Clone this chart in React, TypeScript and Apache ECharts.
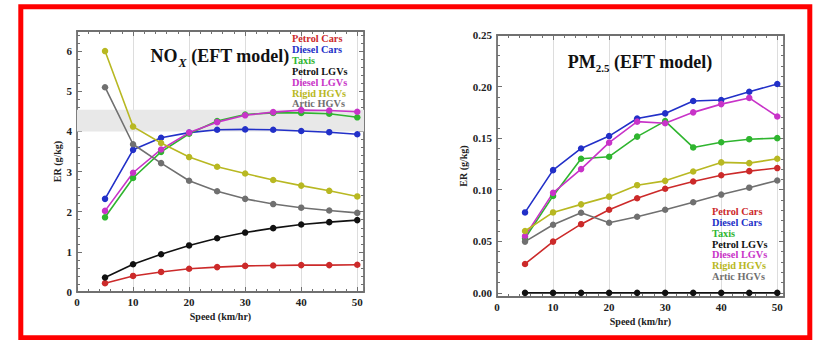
import React, { useEffect, useRef } from "react";
import * as echarts from "echarts";

const speeds = [5, 10, 15, 20, 25, 30, 35, 40, 45, 50];
const seriesNames = ["Petrol Cars", "Diesel Cars", "Taxis", "Petrol LGVs", "Diesel LGVs", "Rigid HGVs", "Artic HGVs"];
const seriesColors = ["#cc2a2a", "#2230c8", "#2fb52f", "#111111", "#c833c8", "#b8b822", "#707070"];

const noxPetrolCars = [0.22, 0.40, 0.50, 0.58, 0.62, 0.65, 0.66, 0.67, 0.67, 0.68];
const noxDieselCars = [2.32, 3.54, 3.84, 3.97, 4.04, 4.05, 4.04, 4.01, 3.98, 3.93];
const noxTaxis = [1.86, 2.84, 3.49, 3.94, 4.26, 4.42, 4.46, 4.46, 4.44, 4.35];
const noxPetrolLGVs = [0.36, 0.69, 0.94, 1.16, 1.34, 1.48, 1.59, 1.68, 1.74, 1.79];
const noxDieselLGVs = [2.02, 2.97, 3.55, 3.97, 4.23, 4.40, 4.48, 4.53, 4.52, 4.49];
const noxRigidHGVs = [6.0, 4.12, 3.71, 3.36, 3.12, 2.95, 2.79, 2.65, 2.52, 2.38];
const noxArticHGVs = [5.10, 3.68, 3.21, 2.77, 2.51, 2.32, 2.19, 2.10, 2.03, 1.97];
const noxBand = [4.0, 4.54];

const pmPetrolCars = [0.028, 0.0497, 0.0666, 0.0806, 0.0917, 0.101, 0.108, 0.114, 0.118, 0.121];
const pmDieselCars = [0.078, 0.119, 0.140, 0.152, 0.169, 0.174, 0.186, 0.187, 0.195, 0.2025];
const pmTaxis = [0.053, 0.094, 0.130, 0.132, 0.1515, 0.1665, 0.141, 0.146, 0.149, 0.150];
const pmPetrolLGVs = [0, 0, 0, 0, 0, 0, 0, 0, 0, 0];
const pmDieselLGVs = [0.055, 0.097, 0.120, 0.1456, 0.166, 0.1645, 0.175, 0.183, 0.189, 0.171];
const pmRigidHGVs = [0.060, 0.078, 0.0858, 0.0933, 0.1044, 0.1086, 0.1177, 0.1265, 0.1258, 0.130];
const pmArticHGVs = [0.0497, 0.066, 0.0777, 0.068, 0.0738, 0.0806, 0.0878, 0.0953, 0.102, 0.109];

const noxSets = [noxPetrolCars, noxDieselCars, noxTaxis, noxPetrolLGVs, noxDieselLGVs, noxRigidHGVs, noxArticHGVs];
const pmSets = [pmPetrolCars, pmDieselCars, pmTaxis, pmPetrolLGVs, pmDieselLGVs, pmRigidHGVs, pmArticHGVs];

const FONT = "Liberation Serif";
const AXIS_COLOR = "#707070";

function frameAxis(extra: any) {
  return {
    type: "value",
    axisLine: { show: true, onZero: false, lineStyle: { color: AXIS_COLOR, width: 1.8 } },
    axisTick: { show: true, inside: true, length: 5, lineStyle: { color: AXIS_COLOR, width: 1 } },
    minorTick: { show: true, splitNumber: 5, length: 3, lineStyle: { color: AXIS_COLOR, width: 1 } },
    splitLine: { show: false },
    axisLabel: { show: false },
    ...extra,
  };
}

const labelStyle = { color: "#222", fontFamily: FONT, fontWeight: "bold", fontSize: 11 };
const nameStyle = { color: "#222", fontFamily: FONT, fontWeight: "bold", fontSize: 10 };

export default function App() {
  const ref = useRef<HTMLDivElement>(null);
  useEffect(() => {
    if (!ref.current) return;
    const chart = echarts.init(ref.current, undefined, { renderer: "svg" });

    const xAxes = [0, 1].flatMap((g) => [
      frameAxis({
        gridIndex: g,
        position: "bottom",
        min: 0,
        max: 51.2,
        interval: 10,
        name: "Speed (km/hr)",
        nameLocation: "middle",
        nameGap: 18,
        nameTextStyle: nameStyle,
        axisLabel: { show: true, margin: 4, showMaxLabel: false, ...labelStyle },
        splitLine: { show: true, lineStyle: { color: "#dddddd", width: 1 } },
      }),
      frameAxis({ gridIndex: g, position: "top", min: 0, max: 51.2, interval: 10 }),
    ]);

    const yAxes = [
      frameAxis({
        gridIndex: 0,
        position: "left",
        min: 0,
        max: 6.5,
        interval: 1,
        name: "ER (g/kg)",
        nameLocation: "middle",
        nameGap: 13,
        nameTextStyle: nameStyle,
        axisLabel: { show: true, margin: 5, showMaxLabel: false, ...labelStyle },
      }),
      frameAxis({ gridIndex: 0, position: "right", min: 0, max: 6.5, interval: 1 }),
      frameAxis({
        gridIndex: 1,
        position: "left",
        min: -0.004,
        max: 0.25,
        splitNumber: 5,
        name: "ER (g/kg)",
        nameLocation: "middle",
        nameGap: 27,
        nameTextStyle: nameStyle,
        axisLabel: {
          show: true,
          margin: 5,
          showMinLabel: false,
          formatter: (v: number) => v.toFixed(2),
          ...labelStyle,
        },
      }),
      frameAxis({ gridIndex: 1, position: "right", min: -0.004, max: 0.25, splitNumber: 5, axisLabel: { show: false } }),
    ];

    const makeSeries = (sets: number[][], xi: number, yi: number, band?: number[]) =>
      sets.map((vals, i) => ({
        type: "line",
        name: seriesNames[i],
        xAxisIndex: xi,
        yAxisIndex: yi,
        data: speeds.map((s, k) => [s, vals[k]]),
        symbol: "circle",
        symbolSize: 6.5,
        showSymbol: true,
        lineStyle: { color: seriesColors[i], width: 1.6 },
        itemStyle: { color: seriesColors[i] },
        z: 3,
        markArea:
          band && i === 0
            ? {
                silent: true,
                itemStyle: { color: "#e8e8e8" },
                data: [[{ yAxis: band[0] }, { yAxis: band[1] }]],
              }
            : undefined,
      }));

    const legendTexts = (x: number, y0: number, step: number) =>
      seriesNames.map((n, i) => ({
        type: "text",
        x,
        y: y0 + i * step,
        z: 10,
        style: {
          text: n,
          fill: seriesColors[i],
          font: `bold 10.3px "${FONT}"`,
          align: "left",
          verticalAlign: "middle",
        },
      }));

    const mainRich = (pb: number) => ({ fontFamily: FONT, fontWeight: "bold", fontSize: 18, fill: "#111", lineHeight: 20, verticalAlign: "bottom", padding: [0, 0, pb, 0] });

    chart.setOption({
      animation: false,
      backgroundColor: "#ffffff",
      grid: [
        { left: 77, top: 31, width: 287, height: 261 },
        { left: 497, top: 35, width: 287, height: 262 },
      ],
      xAxis: xAxes,
      yAxis: yAxes,
      series: [...makeSeries(noxSets, 0, 0, noxBand), ...makeSeries(pmSets, 2, 2)],
      graphic: [
        {
          type: "rect",
          shape: { x: 20.8, y: 6.8, width: 789, height: 331 },
          style: { fill: "none", stroke: "#ff0000", lineWidth: 5 },
          z: 20,
        },
        {
          type: "text",
          x: 220,
          y: 59,
          z: 10,
          style: {
            text: "{a|NO}{s|X}{a| (EFT model)}",
            align: "center",
            verticalAlign: "middle",
            rich: {
              a: mainRich(4),
              s: { fontFamily: FONT, fontStyle: "italic", fontWeight: "bold", fontSize: 12, fill: "#111", lineHeight: 12, verticalAlign: "bottom", padding: [0, 0, 0, 1] },
            },
          },
        },
        {
          type: "text",
          x: 640,
          y: 63,
          z: 10,
          style: {
            text: "{a|PM}{s|2.5}{a| (EFT model)}",
            align: "center",
            verticalAlign: "middle",
            rich: {
              a: mainRich(2),
              s: { fontFamily: FONT, fontWeight: "bold", fontSize: 11, fill: "#111", lineHeight: 11, verticalAlign: "bottom" },
            },
          },
        },
        ...legendTexts(292, 38.5, 10.9),
        ...legendTexts(712, 211.5, 10.85),
      ],
    });
    return () => chart.dispose();
  }, []);
  return (
    <div
      ref={ref}
      style={{ position: "absolute", left: 0, top: 0, width: 815, height: 340, background: "#fff" }}
    />
  );
}
